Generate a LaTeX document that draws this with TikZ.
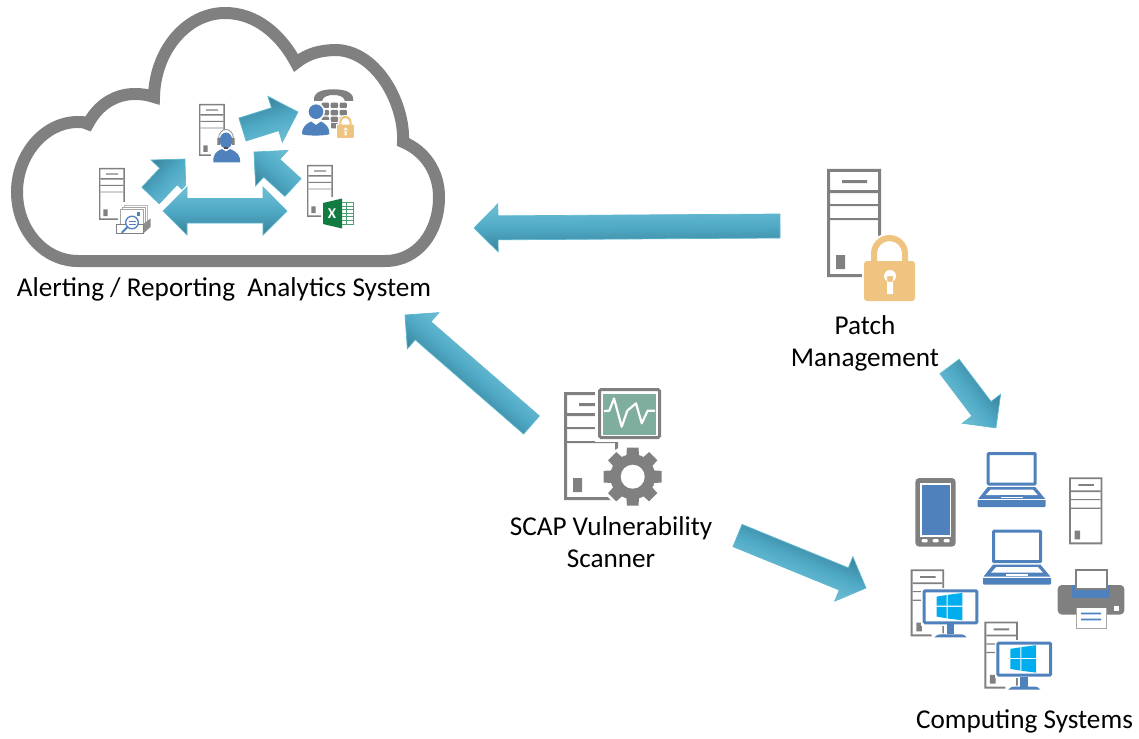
\documentclass[tikz,border=0pt]{standalone}
\usepackage{fontspec}
\setmainfont{Carlito}
\usetikzlibrary{calc}
\definecolor{srvgrey}{HTML}{808080}
\definecolor{iconblue}{HTML}{4F81BD}
\definecolor{lockgold}{HTML}{EEC480}
\definecolor{scopegreen}{HTML}{7FAE9E}
\definecolor{winblue}{HTML}{00ADEF}
\definecolor{xlgreen}{HTML}{107C41}
\definecolor{arrowlight}{HTML}{70BFD4}
\definecolor{arrowmid}{HTML}{4FAAC6}
\definecolor{arrowdark}{HTML}{3A8199}
\definecolor{arrowedge}{HTML}{5DB8CF}
\tikzset{
  lbl/.style={font=\fontsize{27.2}{32}\selectfont, align=center, text=black, inner sep=0pt},
  arrowbody/.style={draw=arrowedge, line width=.7pt, line join=miter, top color=arrowdark, bottom color=arrowlight, middle color=arrowmid},
  arrowbodyrev/.style={draw=arrowedge, line width=.7pt, line join=miter, top color=arrowlight, bottom color=arrowdark, middle color=arrowmid},
}
% block arrow between two named coordinates; shading follows the arrow
\newcommand{\blockarrow}[2]{%
  \path let \p1=($(#2)-(#1)$) in \pgfextra{%
    \pgfmathsetmacro\myang{atan2(\y1,\x1)}%
    \pgfmathsetmacro\mylen{veclen(\x1,\y1)}%
    \xdef\arang{\myang}\xdef\arlen{\mylen}};
  \begin{scope}[transform canvas={shift={(#1)},rotate=\arang},x=1pt,y=1pt]
    \path[arrowbody] (0,-12) -- ({\arlen-24},-12) -- ({\arlen-24},-24) -- (\arlen,0)
      -- ({\arlen-24},24) -- ({\arlen-24},12) -- (0,12) -- cycle;
  \end{scope}}
\newcommand{\server}[3]{%
  \begin{scope}[shift={(#1,#2)},scale=#3]
    \fill[srvgrey,even odd rule] (0,0) rectangle (54,108) (3,3) rectangle (51,105);
    \fill[srvgrey] (3,21) rectangle (51,24) (3,35) rectangle (51,37) (3,49) rectangle (51,51);
    \fill[srvgrey] (15,11) rectangle (40,14) (9,86) rectangle (18,100);
  \end{scope}}
\newcommand{\padlock}[3]{%
  \begin{scope}[shift={(#1,#2)},scale=#3]
    \path[draw=white,line width=#3*5pt,fill=white] (0,26) rectangle (51,66);
    \path[draw=white,line width=#3*4pt,fill=white] (7,28) -- (7,18.5) arc[start angle=180,end angle=360,radius=18.5]
       -- (44,28) -- cycle;
    \fill[lockgold] (7,28) -- (7,18.5) arc[start angle=180,end angle=360,radius=18.5]
       -- (44,28) -- (38,28) -- (38,18.5) arc[start angle=0,end angle=-180,radius=12.5] -- (13,28) -- cycle;
    \fill[lockgold,rounded corners=#3*3pt] (0,26) rectangle (51,66);
    \fill[white] (26,41) circle (6) (23,41) rectangle (29,59);
  \end{scope}}
\newcommand{\laptop}[2]{%
  \begin{scope}[shift={(#1,#2)}]
    \draw[iconblue,line width=3pt,rounded corners=.8pt] (10.5,1.5) rectangle (57.5,32);
    \fill[iconblue] (10,35) -- (57.5,35) -- (67.5,47) -- (0.5,47) -- cycle;
    \fill[white] (13,37.5) -- (55,37.5) -- (60,43) -- (8,43) -- cycle;
    \fill[iconblue] (22,43.3) rectangle (46,44.3);
    \fill[iconblue,rounded corners=1pt] (0,47.5) rectangle (68,55);
    \fill[white] (0,47) rectangle (68,48);
    \fill[white] (23,44.6) rectangle (45,46.2);
  \end{scope}}
\newcommand{\winpc}[2]{%
  \server{#1}{#2}{.62}
  \begin{scope}[shift={(#1+12,#2+20)}]
    \fill[white] (-1.5,-1.5) rectangle (57,36.5);
    \fill[white] (21.5,36) rectangle (33.5,45) (9,44) rectangle (46.5,49);
    \draw[iconblue,line width=3pt,rounded corners=1pt] (1.5,1.5) rectangle (54.2,33.5);
    \fill[iconblue] (24,35) rectangle (31.3,45);
    \fill[iconblue] (11.7,48) .. controls (13,45.5) and (16,45) .. (20,45) -- (36,45) .. controls (40,45) and (43,45.5) .. (44,48) -- cycle;
    \fill[winblue] (14,7.3) -- (24,5.7) -- (24,16.2) -- (14,16.2) -- cycle;
    \fill[winblue] (25,5.5) -- (39.7,3.6) -- (39.7,16.2) -- (25,16.2) -- cycle;
    \fill[winblue] (14,17.5) -- (24,17.5) -- (24,29) -- (14,27.3) -- cycle;
    \fill[winblue] (25,17.5) -- (39.7,17.5) -- (39.7,31) -- (25,29.2) -- cycle;
  \end{scope}}
\begin{document}
\begin{tikzpicture}[x=1pt,y=-1pt]
\useasboundingbox (0,0) rectangle (1139,738);
\fill[white] (0,0) rectangle (1139,738);

% cloud
\draw[srvgrey,line width=12pt,line join=miter,miter limit=3,fill=white]
  (78,261) -- (385,261)
  .. controls (418,261) and (439,232) .. (439,197)
  .. controls (439,172) and (425,151) .. (403,142)
  .. controls (405,105) and (378,52) .. (337,50)
  .. controls (322,50) and (308,53) .. (296,63)
  .. controls (280,33) and (255,13) .. (225,13)
  .. controls (187,13) and (155,50) .. (154,97)
  .. controls (148,95) and (142,94) .. (135,94)
  .. controls (115,94) and (98,105) .. (88,124)
  .. controls (85,122) and (82,122) .. (78,122)
  .. controls (44,122) and (17,155) .. (17,192)
  .. controls (17,230) and (44,261) .. (78,261) -- cycle;

% servers in the cloud
\server{99}{168}{.48}
\server{199}{104}{.48}
\server{307}{165}{.48}

% document search icon
\fill[white] (118,202) rectangle (150,235);
\draw[srvgrey!55,line width=.8pt,fill=white] (124,205) rectangle (147,225);
\draw[srvgrey!70,line width=.8pt,fill=white] (122,207) rectangle (145,226);
\draw[srvgrey!70,line width=.8pt,fill=white] (120.5,209) rectangle (143,226);
\fill[iconblue] (137,212) rectangle (140,215.5);
\fill[srvgrey!90] (143.3,224) -- (150.5,218.5) -- (150.5,227) -- (143.3,233.5) -- cycle;
\draw[srvgrey,line width=1pt,fill=white] (116.5,224) rectangle (143.3,233.3);
\draw[iconblue,line width=1.3pt,fill=white] (132,222.5) circle (6.3);
\draw[iconblue,line width=.8pt] (128.5,221) -- (135.5,221) (128.5,224) -- (135.5,224);
\draw[iconblue,line width=1.8pt,line cap=round] (127.5,227) -- (122,232.5);

% agent icon
\fill[white] (211,130) rectangle (242,163);
\fill[iconblue] (213.3,162.3) .. controls (213,155) and (215,152) .. (222,149) -- (226,151.5) -- (230,149)
   .. controls (237,152) and (240.5,155) .. (240,162.3) -- cycle;
\fill[iconblue] (226,140.5) ellipse (6.3 and 8);
\draw[srvgrey!80,line width=.9pt] (218.5,140) .. controls (218,126) and (234,126) .. (233.5,140);
\fill[srvgrey] (217.3,138) rectangle (220,145) (232,138) rectangle (234.7,145);
\fill[srvgrey!60!black] (224,147.5) rectangle (228,149.5);

% phone and user icon
\fill[srvgrey] (314,101) .. controls (313,92) and (322,89.3) .. (333.5,89.3) .. controls (345,89.3) and (354,92) .. (353.3,101)
   -- (345,101) .. controls (344,96) and (338,95) .. (333.5,95) .. controls (329,95) and (323,96) .. (322,101) -- cycle;
\foreach \cx in {321.7,330.7,339.6} \foreach \cy in {102.7,110,116.7,123}
  \fill[srvgrey,rounded corners=1pt] (\cx,\cy) rectangle ++(7.3,5.3);
\fill[white] (316,111.7) circle (9);
\fill[iconblue] (316,111.7) circle (7.3);
\fill[white] (300,120.5) rectangle (331,136);
\fill[iconblue] (302,134.3) .. controls (302,127) and (306,124) .. (311,121.5) -- (316,125) -- (321,121.5)
   .. controls (326,124) and (329.5,127) .. (329.3,134.3) .. controls (322,136) and (309,136) .. (302,134.3) -- cycle;
\padlock{337}{116}{.33}

% excel icon
\fill[white] (321,197) rectangle (355,230);
\draw[xlgreen!75,line width=.8pt,fill=white] (338,202.5) rectangle (353,224);
\foreach \gy in {206,209.5,213,216.5,220} \draw[xlgreen!75,line width=.6pt] (341,\gy) -- (353,\gy);
\draw[xlgreen!75,line width=.6pt] (346.5,202.5) -- (346.5,224);
\fill[xlgreen] (323,203) -- (342,198.5) -- (342,228.5) -- (323,224) -- cycle;
\node[inner sep=0pt,text=white,font=\bfseries\fontsize{15}{15}\selectfont] (xl) at (332,213.5) {X};

% patch management icon
\server{827}{169}{1}
\padlock{864}{235}{1}

% SCAP scanner icon
\server{564}{392}{1}
\fill[white] (595,385) rectangle (664,442);
\draw[srvgrey,line width=3pt,fill=white,rounded corners=1.5pt] (599.5,389.5) rectangle (659.5,437.5);
\fill[scopegreen] (603,393.5) rectangle (656,434.5);
\draw[white,line width=2.2pt,line join=round] (604,411) -- (609.3,410.7) -- (614,398.5) -- (621.7,426.7) -- (627.3,410.7) -- (636,403.3) -- (641.7,423.3) -- (647.7,410.7) -- (655,410.7);
\fill[srvgrey] (615.3,443) rectangle (617,449);
\fill[white] (632.7,476.7) circle (32);
\foreach \ga in {0,45,...,315}
  \fill[srvgrey,shift={(632.7,476.7)},rotate=\ga] (-6.5,-18) -- (-5.8,-29) -- (5.8,-29) -- (6.5,-18) -- cycle;
\fill[srvgrey] (632.7,476.7) circle (22.5);
\fill[white] (632.7,476.7) circle (12);

% computing systems: phone
\fill[srvgrey,rounded corners=4pt] (915.3,478) rectangle (955.7,546.7);
\fill[white] (920,482.7) rectangle (951,537);
\fill[iconblue] (922,485) rectangle (950,535);
\foreach \bx in {924.7,935.7,946.7} \fill[white,rounded corners=1pt] (\bx-3,539.2) rectangle (\bx+3,542.4);
% laptops, server
\laptop{977.7}{452}
\laptop{983}{529.7}
\server{1069}{477.3}{.62}
% printer
\fill[srvgrey,rounded corners=4pt] (1057.7,585) rectangle (1124.3,614.5);
\fill[iconblue] (1071.7,585) rectangle (1110,598);
\draw[srvgrey,line width=1.6pt,fill=white] (1076,570) rectangle (1107,589);
\fill[white] (1113.5,606) rectangle (1119,611);
\draw[white,line width=1pt,fill=white] (1076,608) rectangle (1106.7,628);
\draw[srvgrey!70,line width=.7pt] (1076,628) -- (1106.7,628) (1076,608) -- (1076,628) (1106.7,608) -- (1106.7,628);
\fill[iconblue] (1081,612.5) rectangle (1101,614.3) (1081,618.5) rectangle (1101,620.3);
% windows PCs
\winpc{910.7}{569.3}
\winpc{984.4}{621.6}

% arrows
\coordinate (a1s) at (150.5,195.5); \coordinate (a1e) at (185,159);
\coordinate (a2s) at (242.5,129.5); \coordinate (a2e) at (298,112);
\coordinate (a3s) at (293,187.5);   \coordinate (a3e) at (254,152);
\coordinate (lgs) at (780,226);     \coordinate (lge) at (474,228);
\coordinate (scs) at (531.5,425);   \coordinate (sce) at (405,315);
\coordinate (pcs) at (949.5,366.5); \coordinate (pce) at (996,428);
\coordinate (vcs) at (737.5,535.5); \coordinate (vce) at (866,588);
\blockarrow{a1s}{a1e}
\blockarrow{a2s}{a2e}
\blockarrow{a3s}{a3e}
\blockarrow{lgs}{lge}
\blockarrow{scs}{sce}
\blockarrow{pcs}{pce}
\blockarrow{vcs}{vce}
% double arrow
\path[draw=white,line width=3pt] (163,211) -- (187,187) -- (187,198) -- (263,198) -- (263,187) -- (287,211) -- (263,235) -- (263,223) -- (187,223) -- (187,235) -- cycle;
\path[arrowbodyrev] (163,211) -- (187,187) -- (187,198.5) -- (263,198.5) -- (263,187) -- (287,211) -- (263,235) -- (263,223) -- (187,223) -- (187,235) -- cycle;

% labels
\node[lbl,anchor=center] (cloudlbl) at (224,289) {Alerting / Reporting\ \ Analytics System};
\node[lbl,anchor=center] (patchlbl) at (865,343) {Patch\\Management};
\node[lbl,anchor=center] (scaplbl) at (611,542) {SCAP Vulnerability\\Scanner};
\node[lbl,anchor=center] (complbl) at (1024.5,721) {Computing Systems};
\end{tikzpicture}
\end{document}
